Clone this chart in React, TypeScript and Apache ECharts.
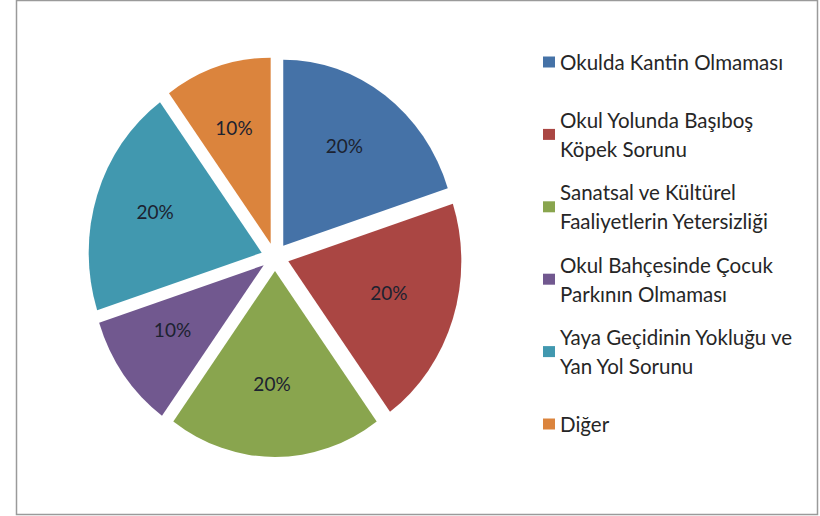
import React, { useEffect, useRef } from "react";
import * as echarts from "echarts";

// ---- data ----
const legendLines: string[][] = [
  ["Okulda Kantin Olmaması"],
  ["Okul Yolunda Başıboş", "Köpek Sorunu"],
  ["Sanatsal ve Kültürel", "Faaliyetlerin Yetersizliği"],
  ["Okul Bahçesinde Çocuk", "Parkının Olmaması"],
  ["Yaya Geçidinin Yokluğu ve", "Yan Yol Sorunu"],
  ["Diğer"],
];
const categories: string[] = legendLines.map((l) => l.join(" "));
const values: number[] = [20, 20, 20, 10, 20, 10];
const colors: string[] = ["#4572A7", "#AA4643", "#89A54E", "#71588F", "#4198AF", "#DB843D"];

// ---- layout / style ----
const FONT = "Lato, 'Open Sans', sans-serif";
const CX = 275;
const CY = 257;
const RX = 173;
const RY = 186;
const EXPLODE = 14;
const LABEL_R = 0.63;
const LABEL_DX = -3;
const LABEL_DY = -5;
const LEGEND_LEFT = 543;
const LEGEND_FIRST = 62;
const LEGEND_STEP = 72.4;
const LINE_H = 29;

export default function App() {
  const ref = useRef<HTMLDivElement>(null);
  useEffect(() => {
    if (!ref.current) return;
    const chart = echarts.init(ref.current, undefined, { renderer: "svg" });
    const total = values.reduce((a, b) => a + b, 0);

    const series = categories.map((name, i) => ({
      type: "custom",
      name,
      coordinateSystem: "none",
      itemStyle: { color: colors[i] },
      data: [values[i]],
      renderItem: () => {
        const before = values.slice(0, i).reduce((a, b) => a + b, 0);
        const start = -Math.PI / 2 + (2 * Math.PI * before) / total;
        const end = start + (2 * Math.PI * values[i]) / total;
        const mid = (start + end) / 2;
        const ox = CX + Math.cos(mid) * EXPLODE;
        const oy = CY + Math.sin(mid) * EXPLODE;
        const pct = Math.round((values[i] / total) * 100) + "%";
        return {
          type: "group",
          children: [
            {
              type: "sector",
              x: ox,
              y: oy,
              scaleY: RY / RX,
              shape: { cx: 0, cy: 0, r: RX, r0: 0, startAngle: start, endAngle: end, clockwise: true },
              style: { fill: colors[i] },
            },
            {
              type: "text",
              x: ox + Math.cos(mid) * RX * LABEL_R + LABEL_DX,
              y: oy + Math.sin(mid) * RY * LABEL_R + LABEL_DY,
              style: {
                text: pct,
                fill: "#1c2230",
                font: `19px ${FONT}`,
                align: "center",
                verticalAlign: "middle",
                textAlign: "center",
                textVerticalAlign: "middle",
              },
            },
          ],
        };
      },
    }));

    const legend = legendLines.map((lines, i) => ({
      data: [categories[i]],
      left: LEGEND_LEFT,
      top: LEGEND_FIRST + LEGEND_STEP * i - (lines.length > 1 ? LINE_H * 1.5 : LINE_H / 2),
      orient: "vertical",
      icon: "rect",
      itemWidth: 12,
      itemHeight: 11,
      padding: 0,
      selectedMode: false,
      formatter: () => lines.join("\n"),
      textStyle: {
        fontFamily: FONT,
        fontSize: 20.5,
        color: "#262626",
        lineHeight: LINE_H,
        padding: lines.length > 1 ? [LINE_H, 0, 0, 0] : 0,
      },
    }));

    chart.setOption({
      animation: false,
      backgroundColor: "#ffffff",
      legend,
      series,
      graphic: [
        {
          type: "rect",
          z: -1,
          shape: { x: 16.5, y: 0.5, width: 801, height: 514 },
          style: { fill: "#ffffff", stroke: "#9a9a9a", lineWidth: 1.5 },
        },
      ],
    });
    return () => chart.dispose();
  }, []);
  return (
    <div
      ref={ref}
      style={{ position: "fixed", left: 0, top: 0, width: 820, height: 516 }}
    />
  );
}
